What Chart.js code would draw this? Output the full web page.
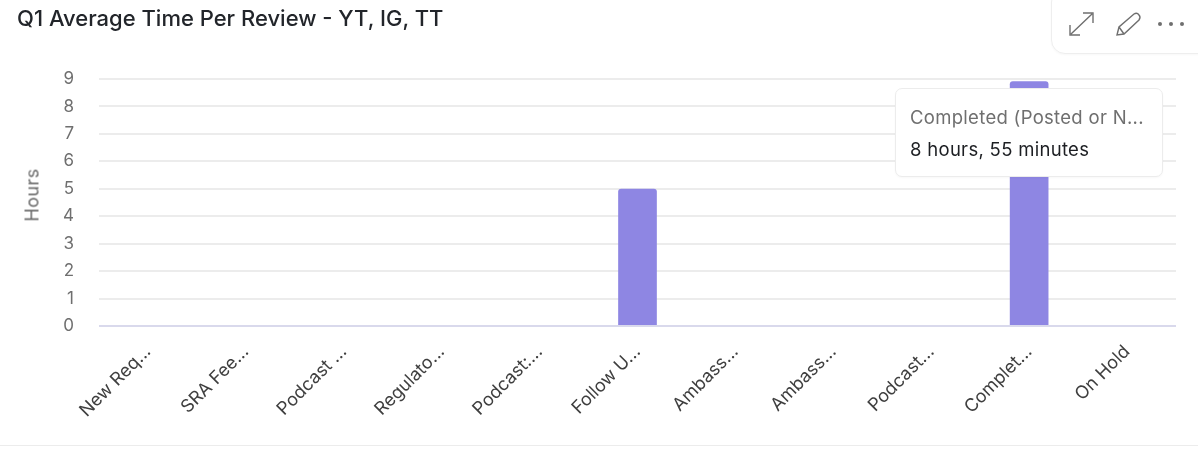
<!DOCTYPE html>
<html>
<head>
<meta charset="utf-8">
<script src="https://cdn.jsdelivr.net/npm/chart.js@4"></script>
<style>
    html, body { margin: 0; padding: 0; background: #fff; overflow: hidden; }
    body { width: 1198px; height: 458px; position: relative; font-family: Inter, sans-serif; }
    #reviewChart { position: absolute; left: 0; top: 0; }
    #title { position: absolute; left: 17px; top: 5px; font-size: 22px; line-height: 26px; font-weight: 500; color: #22252a; white-space: nowrap; }
    #yTitle { position: absolute; left: 32px; top: 195px; font-size: 18px; letter-spacing: 0.4px; color: #666; white-space: nowrap; transform: translate(-50%, -50%) rotate(-90deg); }
    #toolbar { position: absolute; left: 1051px; top: -12px; width: 160px; height: 64px; background: #fff; border: 1px solid #eeeeee; border-radius: 14px; box-shadow: 0 1px 2px rgba(0,0,0,0.03); }
    #toolbar svg { position: absolute; left: 0; top: 0; }
    #tip { position: absolute; left: 895px; top: 88px; width: 268px; height: 89px; box-sizing: border-box; background: #fff; border: 1px solid #ececec; border-radius: 7px; padding: 15px 14px; font-size: 18.5px; letter-spacing: 0.3px; white-space: nowrap; box-shadow: 0 1px 2px rgba(0,0,0,0.03); }
    #tipTitle { color: #6f6f6f; line-height: 26px; }
    #tipValue { color: #1d1f23; line-height: 26px; margin-top: 6px; }
    #rule { position: absolute; left: 0; right: 0; top: 445px; height: 1px; background: #ececec; }
</style>
</head>
<body>
<canvas id="reviewChart" width="1198" height="458"></canvas>
<div id="title">Q1 Average Time Per Review - YT, IG, TT</div>
<div id="yTitle">Hours</div>
<div id="toolbar">
    <svg width="160" height="64" fill="none" stroke="#6f6f6f" stroke-width="1.4">
        <path d="M19 45 L40 25 M31 24 H41 V34 M18 36 V46 H28"/>
        <path d="M65 46 L67 38 L82 25 Q85 23 87 26 Q89 28 87 31 L72 45 Z M67 38 L72 45"/>
        <g fill="#6f6f6f" stroke="none"><circle cx="108" cy="35" r="2"/><circle cx="119" cy="35" r="2"/><circle cx="130" cy="35" r="2"/></g>
    </svg>
</div>
<div id="tip">
    <div id="tipTitle"></div>
    <div id="tipValue"></div>
</div>
<div id="rule"></div>
<script>
const categories = ['New Req...', 'SRA Fee...', 'Podcast ...', 'Regulato...', 'Podcast:...', 'Follow U...', 'Ambass...', 'Ambass...', 'Podcast...', 'Complet...', 'On Hold'];
const hours = [0, 0, 0, 0, 0, 5, 0, 0, 0, 8.92, 0];
const yTicks = [0, 1, 2, 3, 4, 5, 6, 7, 8, 9];
const tipTitle = 'Completed (Posted or N...';
const tipValue = '8 hours, 55 minutes';

document.addEventListener('DOMContentLoaded', function() {
    document.getElementById('tipTitle').textContent = tipTitle;
    document.getElementById('tipValue').textContent = tipValue;

    const ctx = document.getElementById('reviewChart').getContext('2d');
    new Chart(ctx, {
        type: 'bar',
        data: {
            labels: categories,
            datasets: [{
                label: 'Hours',
                data: hours,
                backgroundColor: '#8e86e3',
                borderRadius: { topLeft: 3, topRight: 3 },
                borderSkipped: 'bottom',
                barPercentage: 0.395,
                categoryPercentage: 1
            }]
        },
        options: {
            responsive: false,
            animation: false,
            layout: { padding: { left: 0, top: 79, right: 22, bottom: 0 } },
            plugins: { legend: { display: false }, tooltip: { enabled: false } },
            scales: {
                x: {
                    border: { display: false },
                    grid: { display: false },
                    ticks: {
                        autoSkip: false,
                        minRotation: 45,
                        maxRotation: 45,
                        padding: 7,
                        labelOffset: 0,
                        color: '#3f3f3f',
                        font: { family: 'Inter', size: 18 }
                    },
                    afterFit: function(axis) { axis.height = 132; }
                },
                y: {
                    min: 0,
                    max: 9,
                    afterBuildTicks: function(axis) { axis.ticks = yTicks.map(v => ({ value: v })); },
                    border: { display: false },
                    grid: {
                        drawTicks: false,
                        lineWidth: 2,
                        color: function(c) { return c.tick.value === 0 ? '#d9d9ec' : '#ececec'; }
                    },
                    ticks: {
                        padding: 25,
                        color: '#6f6f6f',
                        font: { family: 'Inter', size: 17 }
                    },
                    afterFit: function(axis) { axis.width = 99; }
                }
            }
        }
    });
});
</script>
</body>
</html>
